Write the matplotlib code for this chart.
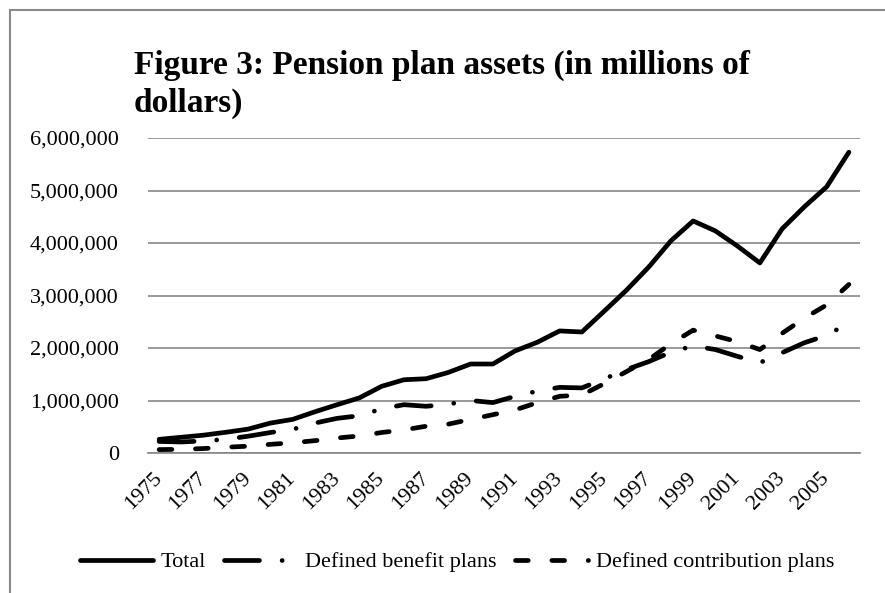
import matplotlib
matplotlib.use("Agg")
import matplotlib.pyplot as plt
import numpy as np
from matplotlib.patches import Rectangle
from matplotlib.ticker import FuncFormatter

years = list(range(1975, 2007))
# millions of dollars
total = [260000, 300000, 340000, 395000, 455000, 570000, 640000, 785000, 920000, 1050000,
         1270000, 1395000, 1415000, 1535000, 1695000, 1695000, 1945000, 2110000, 2325000, 2305000,
         2700000, 3100000, 3540000, 4040000, 4420000, 4230000, 3940000, 3620000, 4270000, 4690000,
         5070000, 5730000]
defined_benefit = [220000, 210000, 230000, 260000, 320000, 390000, 450000, 570000, 660000, 710000,
                   840000, 920000, 890000, 930000, 1000000, 960000, 1080000, 1180000, 1250000, 1240000,
                   1410000, 1590000, 1740000, 1920000, 2040000, 1970000, 1840000, 1720000, 1910000, 2100000,
                   2240000, 2480000]
defined_contribution = [65000, 70000, 85000, 110000, 130000, 165000, 195000, 235000, 285000, 325000,
                        390000, 440000, 510000, 550000, 640000, 730000, 820000, 960000, 1080000, 1105000,
                        1320000, 1550000, 1780000, 2080000, 2340000, 2230000, 2120000, 1970000, 2280000, 2570000,
                        2820000, 3210000]

W, H = 885, 593
fig = plt.figure(figsize=(W / 100, H / 100), dpi=100)
serif = ["Liberation Serif", "DejaVu Serif"]

ax = fig.add_axes([148 / W, 1 - 453 / H, (860 - 148) / W, (453 - 138) / H])

x = np.arange(len(years))
lw = 3.4
ax.plot(x, total, color="black", lw=lw, solid_capstyle="round", solid_joinstyle="round", label="Total")
ax.plot(x, defined_benefit, color="black", lw=lw, dashes=(7.4, 4.8, 0.01, 4.8),
        dash_capstyle="round", dash_joinstyle="round", label="Defined benefit plans")
ax.plot(x, defined_contribution, color="black", lw=lw, dashes=(2.7, 5.0),
        dash_capstyle="round", dash_joinstyle="round", label="Defined contribution plans")

ax.set_xlim(-0.5, len(years) - 0.5)
ax.set_ylim(0, 6000000)
ax.set_yticks(np.arange(0, 6000001, 1000000))
ax.yaxis.set_major_formatter(FuncFormatter(lambda v, p: f"{v:,.0f}"))
ax.set_xticks(x[::2])
ax.set_xticklabels([str(y) for y in years[::2]], rotation=45, ha="right", va="center",
                   rotation_mode="anchor", family=serif, fontsize=16)
for t in ax.get_yticklabels():
    t.set_family(serif)
    t.set_fontsize(16)
ax.tick_params(axis="both", length=0)
ax.tick_params(axis="y", pad=21)
ax.tick_params(axis="x", pad=16)
ax.grid(axis="y", color="#878787", lw=1.2)
ax.set_axisbelow(True)
for s in ["top", "right", "left"]:
    ax.spines[s].set_visible(False)
ax.spines["bottom"].set_color("#878787")
ax.spines["bottom"].set_linewidth(1.2)

fig.text(134 / W, 1 - 74 / H, "Figure 3: Pension plan assets (in millions of",
         family=serif, fontweight="bold", fontsize=24, va="baseline", ha="left")
fig.text(134 / W, 1 - 112 / H, "dollars)",
         family=serif, fontweight="bold", fontsize=24, va="baseline", ha="left")

fig.legend(loc="center", bbox_to_anchor=(457 / W, 1 - 562 / H), ncol=3, frameon=False,
           prop={"family": serif, "size": 16}, handlelength=3.3, handletextpad=0.35,
           columnspacing=0.8)

fig.patches.append(Rectangle((9.5 / W, -0.1), 1.2, 1.1 - 10 / H, transform=fig.transFigure,
                             fill=False, edgecolor="#8a8a8a", lw=1.5))

fig.savefig("out.png", dpi=100)
